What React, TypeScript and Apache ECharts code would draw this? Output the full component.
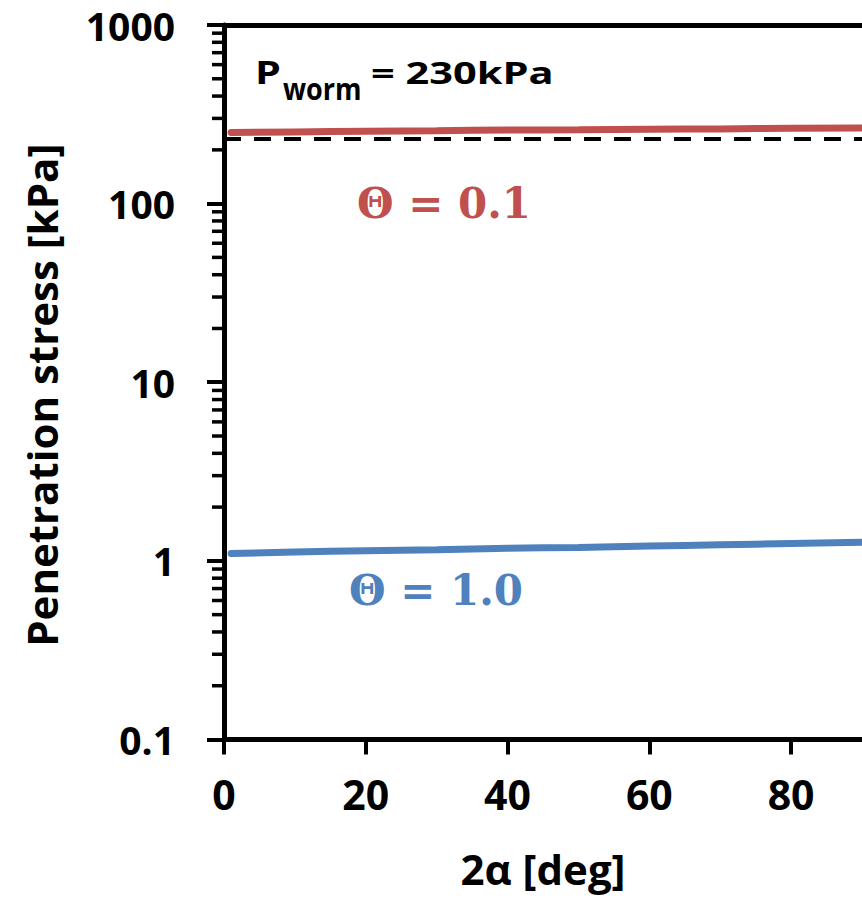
import React, { useEffect, useRef } from "react";
import * as echarts from "echarts";

const xValues = [1, 10, 20, 30, 40, 50, 60, 70, 80, 90];
const theta01 = [250, 252, 254, 256, 258, 259, 261, 262, 264, 265];
const theta10 = [1.1, 1.12, 1.14, 1.155, 1.175, 1.19, 1.21, 1.23, 1.25, 1.27];
const pWormValue = 230;
const pWormRange = [0, 90];
const decades = [0.1, 1, 10, 100];
const minorSteps = [2, 3, 4, 5, 6, 7, 8, 9];

const RED = "#C0504D";
const BLUE = "#4F81BD";
const FONT = "'Open Sans', sans-serif";
const SERIF = "'DejaVu Serif', 'Liberation Serif', serif";

export default function App() {
  const ref = useRef<HTMLDivElement>(null);
  useEffect(() => {
    if (!ref.current) return;
    const chart = echarts.init(ref.current, null, { renderer: "svg" });
    const minorData: number[][] = [];
    decades.forEach((d) => minorSteps.forEach((k) => minorData.push([0, +(k * d).toPrecision(3)])));

    chart.setOption({
      animation: false,
      backgroundColor: "#fff",
      grid: { left: 224, top: 25, right: -3, bottom: 165.5, containLabel: false },
      xAxis: [
        {
          type: "value",
          min: 0,
          max: 90,
          interval: 20,
          name: "2α [deg]",
          nameLocation: "middle",
          nameGap: 108,
          nameTextStyle: { fontFamily: FONT, fontWeight: "bold", fontSize: 42, color: "#000", verticalAlign: "top" },
          axisLine: { show: true, onZero: false, lineStyle: { color: "#000", width: 5 } },
          axisTick: { show: true, length: 15, lineStyle: { color: "#000", width: 4 } },
          axisLabel: {
            fontFamily: FONT,
            fontWeight: "bold",
            fontSize: 41,
            color: "#000",
            margin: 34,
            showMaxLabel: false,
            formatter: (v: number) => (v % 20 === 0 ? String(v) : ""),
          },
          splitLine: { show: false },
        },
        {
          type: "value",
          position: "top",
          min: 0,
          max: 90,
          axisLine: { show: true, onZero: false, lineStyle: { color: "#000", width: 5 } },
          axisTick: { show: false },
          axisLabel: { show: false },
          splitLine: { show: false },
        },
      ],
      yAxis: {
        type: "log",
        logBase: 10,
        min: 0.1,
        max: 1000,
        name: "Penetration stress [kPa]",
        nameLocation: "middle",
        nameGap: 162,
        nameRotate: 90,
        nameTextStyle: { fontFamily: FONT, fontWeight: "bold", fontSize: 42, color: "#000", padding: [0, 26, 0, 0] },
        axisLine: { show: true, onZero: false, lineStyle: { color: "#000", width: 5 } },
        axisTick: { show: true, length: 17, lineStyle: { color: "#000", width: 4 } },
        axisLabel: {
          fontFamily: FONT,
          fontWeight: "bold",
          fontSize: 39,
          lineHeight: 39,
          padding: [6, 0, 0, 0],
          color: "#000",
          margin: 49,
          formatter: (v: number) => String(+v.toPrecision(3)),
        },
        splitLine: { show: false },
      },
      series: [
        {
          type: "custom",
          silent: true,
          clip: false,
          data: minorData,
          renderItem: (_p: any, api: any) => {
            const pt = api.coord([0, api.value(1)]);
            return {
              type: "line",
              shape: { x1: pt[0] - 12, y1: pt[1], x2: pt[0], y2: pt[1] },
              style: { stroke: "#000", lineWidth: 3.5 },
            };
          },
          z: 1,
        },
        {
          type: "line",
          data: xValues.map((x, i) => [x, theta01[i]]),
          showSymbol: false,
          smooth: true,
          lineStyle: { color: RED, width: 7, cap: "round" },
          z: 2,
        },
        {
          type: "line",
          data: xValues.map((x, i) => [x, theta10[i]]),
          showSymbol: false,
          smooth: true,
          lineStyle: { color: BLUE, width: 7, cap: "round" },
          z: 2,
        },
        {
          type: "line",
          data: pWormRange.map((x) => [x, pWormValue]),
          showSymbol: false,
          lineStyle: { color: "#000", width: 4, type: [17, 13] },
          z: 3,
        },
      ],
      graphic: [
        {
          type: "text",
          x: 255,
          y: 71,
          scaleX: 1.25,
          style: { text: "P", fontFamily: FONT, fontWeight: "bold", fontSize: 33, fill: "#000", verticalAlign: "middle" },
        },
        {
          type: "text",
          x: 283,
          y: 88,
          scaleX: 0.9,
          style: { text: "worm", fontFamily: FONT, fontWeight: "bold", fontSize: 30, fill: "#000", verticalAlign: "middle" },
        },
        {
          type: "text",
          x: 371,
          y: 72,
          scaleX: 1.34,
          style: { text: "= 230kPa", fontFamily: FONT, fontWeight: "bold", fontSize: 31, fill: "#000", verticalAlign: "middle" },
        },
        {
          type: "text",
          x: 357,
          y: 203,
          style: { text: "Θ = 0.1", fontFamily: SERIF, fontWeight: "bold", fontSize: 42, fill: RED, verticalAlign: "middle" },
        },
        {
          type: "text",
          x: 349,
          y: 590,
          style: { text: "Θ = 1.0", fontFamily: SERIF, fontWeight: "bold", fontSize: 42, fill: BLUE, verticalAlign: "middle" },
        },
      ],
    });
    return () => chart.dispose();
  }, []);
  return (
    <div
      ref={ref}
      style={{ position: "fixed", left: 0, top: 0, width: 862, height: 905, overflow: "hidden" }}
    />
  );
}
